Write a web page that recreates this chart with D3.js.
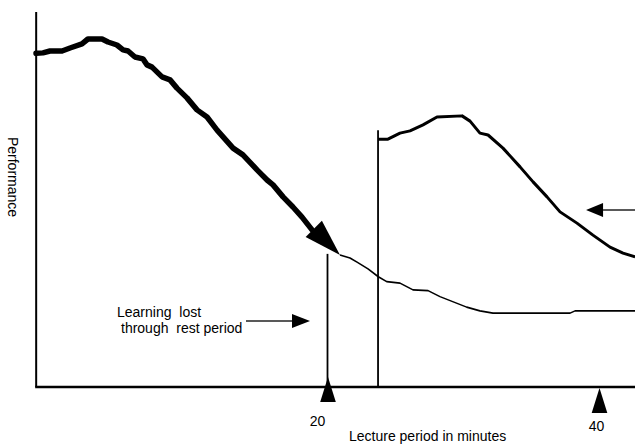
<!DOCTYPE html>
<html><head><meta charset="utf-8">
<script src="https://cdn.jsdelivr.net/npm/d3@7"></script>
<style>
html,body{margin:0;padding:0;background:#fff;}
svg{display:block;font-family:"Liberation Sans",Arial,sans-serif;}
text{white-space:pre;fill:#000;}
</style></head>
<body><svg id="c" width="635" height="444"></svg>
<script>
// minutes and performance (arbitrary units 0-100)
const mainT = [-1.51,-1.0,-0.48,0.41,1.0,1.88,2.32,3.36,3.80,4.46,4.91,5.28,5.79,6.38,6.68,7.05,7.79,8.38,8.89,9.63,10.37,11.11,11.85,13.03,13.76,14.80,15.54,15.98,16.72,17.45,18.12,18.86];
const mainV = [89.0,89.1,89.6,89.6,90.4,91.5,92.8,92.8,92.0,91.2,89.9,89.6,88.0,87.5,85.9,85.3,82.7,81.9,79.7,77.1,73.9,72.0,68.5,63.7,61.9,57.9,55.2,53.9,50.7,48.0,45.3,41.9];
const arrowTip = {t:20.92, v:35.2};
const restT = [20.92,21.66,22.18,22.99,23.75,24.37,25.35,26.31,27.42,28.30,30.27,31.25,32.21,37.90,38.27,42.70];
const restV = [35.2,34.4,33.3,31.5,29.4,28.1,27.7,25.9,25.7,24.1,21.3,20.3,19.7,19.7,20.3,20.3];
const resumeT = [23.73,24.46,25.35,26.09,27.05,28.08,29.93,30.52,31.25,31.85,32.95,34.21,35.17,36.20,37.16,38.41,39.59,40.85,41.81,42.70];
const resumeV = [66.1,66.1,67.7,68.3,69.9,72.0,72.3,70.9,67.7,67.2,63.7,58.7,54.7,50.7,46.7,43.7,40.5,37.3,35.7,34.7];
const tickValues = [20, 40];
const tickLabels = ["20", "40"];
const markerLines = [{t:20, v:35.5}, {t:23.73, v:68.5}];
const labelLines = ["Learning  lost", "through  rest period"];
const xTitle = "Lecture period in minutes";
const yTitle = "Performance";

const svg = d3.select("#c");
const x = d3.scaleLinear().domain([20, 40]).range([327.5, 598.5]);
const y = d3.scaleLinear().domain([0, 100]).range([387, 12]);
const xStart = -1.5, xEnd = 42.75;

const line = d3.line().x(d => x(d[0])).y(d => y(d[1]));
const zip = (a, b) => a.map((d, i) => [d, b[i]]);

// axes
svg.append("line").attr("x1", x(xStart)).attr("x2", x(xStart))
  .attr("y1", y(100)).attr("y2", y(0)).attr("stroke", "#000").attr("stroke-width", 2);
svg.append("line").attr("x1", x(xStart) - 1).attr("x2", x(xEnd))
  .attr("y1", y(0)).attr("y2", y(0)).attr("stroke", "#000").attr("stroke-width", 2.6);

// vertical marker lines
svg.selectAll(".mk").data(markerLines).join("line")
  .attr("x1", d => x(d.t)).attr("x2", d => x(d.t))
  .attr("y1", d => y(d.v)).attr("y2", y(0))
  .attr("stroke", "#000").attr("stroke-width", 1.8);

// tick triangles
const triOff = [[0, -10, 25], [0, 1, 25]];
svg.selectAll(".tk").data(tickValues).join("path")
  .attr("d", (d, i) => {
    const cx = x(d) + (i === 0 ? 0.5 : 1), top = y(0) + triOff[i][1], h = triOff[i][2], w = 7.8;
    return `M${cx},${top}L${cx + w},${top + h}L${cx - w},${top + h}Z`;
  }).attr("fill", "#000");
svg.selectAll(".tl").data(tickLabels).join("text")
  .attr("x", (d, i) => x(tickValues[i]) - 10 + i * 8)
  .attr("y", (d, i) => i === 0 ? 426 : 431)
  .attr("text-anchor", "middle").attr("font-size", 14).text(d => d);

// curves
svg.append("path").attr("d", line(zip(restT, restV)))
  .attr("fill", "none").attr("stroke", "#000").attr("stroke-width", 1.6).attr("stroke-linejoin", "round");
svg.append("path").attr("d", line(zip(resumeT, resumeV)))
  .attr("fill", "none").attr("stroke", "#000").attr("stroke-width", 3).attr("stroke-linejoin", "round");
svg.append("path").attr("d", line(zip(mainT, mainV)))
  .attr("fill", "none").attr("stroke", "#000").attr("stroke-width", 5.5)
  .attr("stroke-linejoin", "round").attr("stroke-linecap", "round");

// big arrowhead on main curve
{
  const tx = x(arrowTip.t), ty = y(arrowTip.v);
  const px = x(mainT[mainT.length - 2]), py = y(mainV[mainV.length - 2]);
  const dx = tx - px, dy = ty - py, L = Math.hypot(dx, dy);
  const ux = dx / L, uy = dy / L, len = 37, hw = 11.5;
  const bx = tx - ux * len, by = ty - uy * len;
  svg.append("path")
    .attr("d", `M${tx},${ty}L${bx - uy * hw},${by + ux * hw}L${bx + uy * hw},${by - ux * hw}Z`)
    .attr("fill", "#000");
}

// annotation arrows
function arrow(x1, yy, x2, head, hh) {
  const dir = Math.sign(x2 - x1);
  svg.append("line").attr("x1", x1).attr("x2", x2 - dir * head).attr("y1", yy).attr("y2", yy)
    .attr("stroke", "#222").attr("stroke-width", 1.6);
  svg.append("path").attr("d", `M${x2},${yy}L${x2 - dir * head},${yy - hh}L${x2 - dir * head},${yy + hh}Z`)
    .attr("fill", "#000");
}
arrow(246, 321, 310, 18, 7);
arrow(x(xEnd), y(47.2), x(39.08), 17, 7);

// label text
svg.selectAll(".lb").data(labelLines).join("text")
  .attr("x", (d, i) => 117 + i * 4).attr("y", (d, i) => 317 + i * 16)
  .attr("font-size", 14).text(d => d);

// titles
svg.append("text").attr("x", 349).attr("y", 441).attr("font-size", 14).text(xTitle);
svg.append("text").attr("transform", "translate(8,177) rotate(90)")
  .attr("text-anchor", "middle").attr("font-size", 14).text(yTitle);
</script></body></html>
